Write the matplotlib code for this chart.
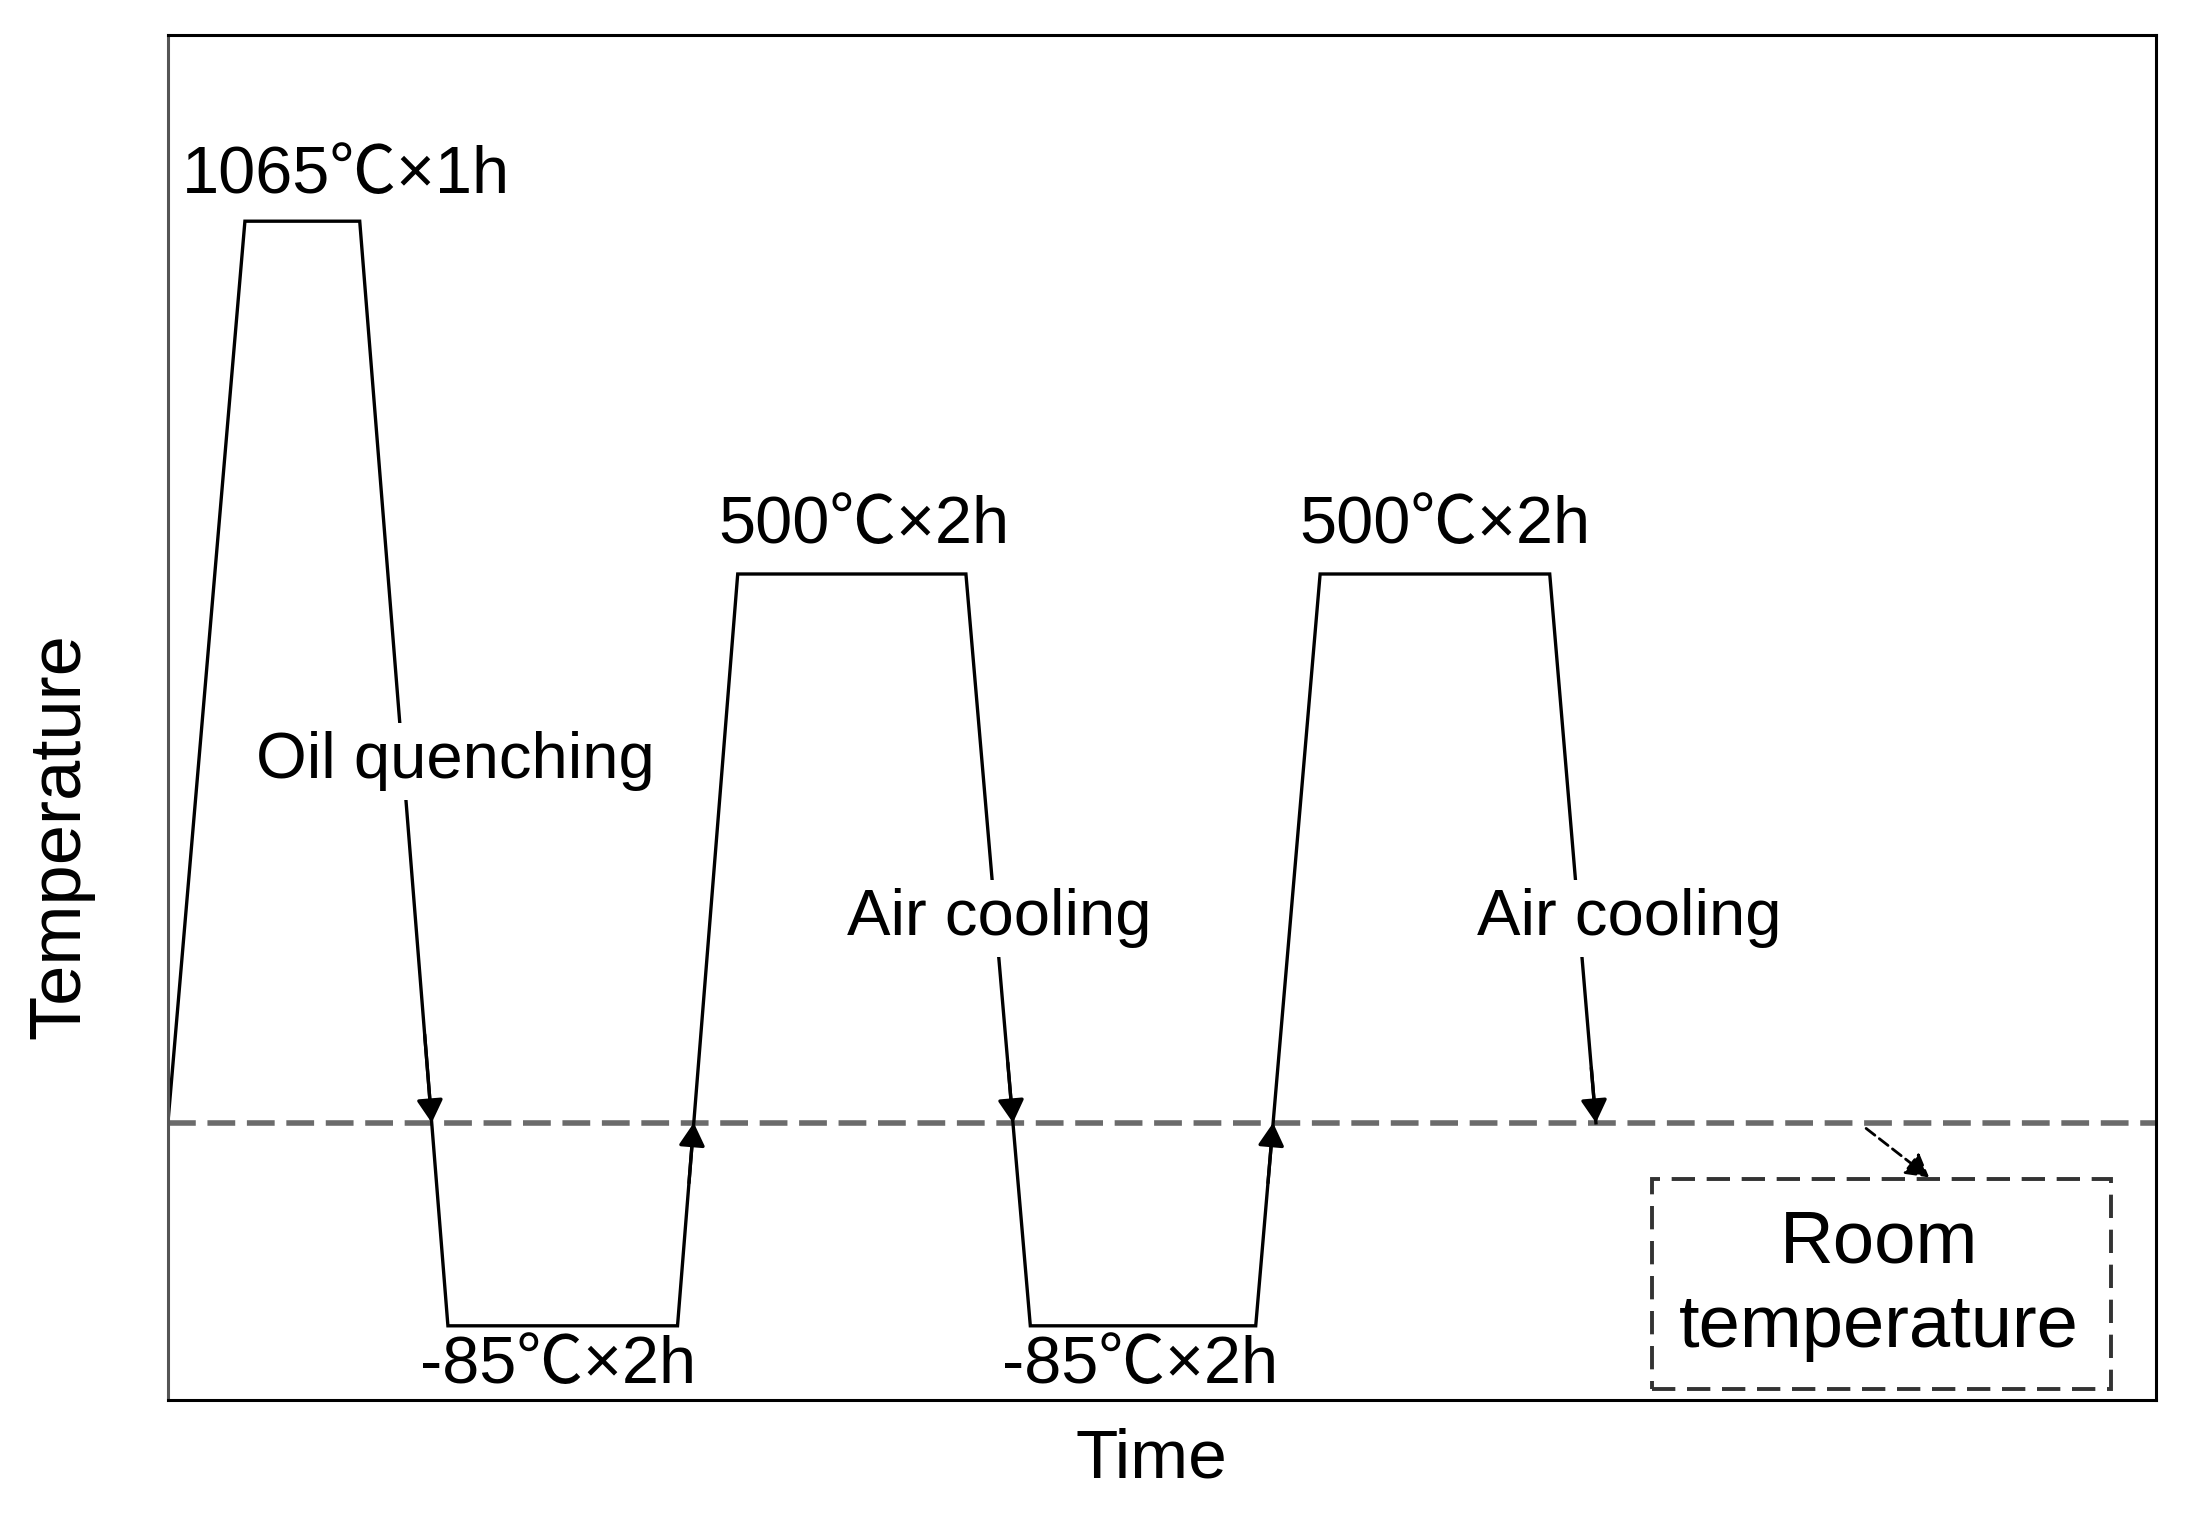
import matplotlib
matplotlib.use('Agg')
import matplotlib.pyplot as plt
from matplotlib.patches import Rectangle

# ---- data (schematic units: time and temperature are arbitrary) ----
time_pts = [0, 55, 137, 200, 364, 407, 570, 616, 777, 823, 987, 1020]
temp_pts = [198, 842, 842, 53, 53, 590, 590, 53, 53, 590, 590, 198]
room_temp = 198
x_range = [0, 1420]
y_range = [0, 975]

hold_labels = ["1065℃×1h", "500℃×2h", "500℃×2h", "-85℃×2h", "-85℃×2h"]
hold_label_x = [10, 393, 808, 180, 596]
hold_label_y = [862, 612, 612, 12, 12]

process_labels = ["Oil quenching", "Air cooling", "Air cooling"]
process_label_x = [63, 485, 935]
process_label_y = [444, 332, 332]

arrow_segments = [2, 4, 6, 8]          # segments with an arrow at the room-temp crossing
room_box = [1060, 8, 328, 150]          # x, y, width, height of the note box
room_arrow = [(1213, 194), (1258, 159)]
room_text = ["Room", "temperature"]
room_text_y = [98, 38]
room_text_x = 1222

FAM = ['Liberation Sans', 'Noto Sans CJK SC', 'DejaVu Sans']
plt.rcParams['font.family'] = FAM

fig = plt.figure(figsize=(21.95, 15.15), dpi=100)
ax = fig.add_axes([0.0765, 0.0759, 0.9057, 0.9010])
ax.set_xlim(*x_range)
ax.set_ylim(*y_range)
ax.set_xticks([])
ax.set_yticks([])
for s in ax.spines.values():
    s.set_linewidth(2.2)
    s.set_color('black')
ax.spines['left'].set_color('#555555')

# room temperature dashed line
ax.axhline(room_temp, color='#6b6b6b', lw=4, dashes=(5, 2.1), zorder=1)

# temperature profile
ax.plot(time_pts, temp_pts, color='black', lw=2.4, zorder=2, solid_joinstyle='miter')

astyle = '-|>,head_length=0.7,head_width=0.4'
for i in arrow_segments:
    t0, t1 = time_pts[i], time_pts[i + 1]
    T0, T1 = temp_pts[i], temp_pts[i + 1]
    f = (room_temp - T0) / (T1 - T0)
    xc = t0 + f * (t1 - t0)
    fb = f - 0.08
    xb = t0 + fb * (t1 - t0)
    yb = T0 + fb * (T1 - T0)
    ax.annotate('', xy=(xc, room_temp), xytext=(xb, yb),
                arrowprops=dict(arrowstyle=astyle, color='black', lw=2.4,
                                shrinkA=0, shrinkB=0, mutation_scale=20), zorder=4)
# final cooling arrow
ax.annotate('', xy=(time_pts[-1], temp_pts[-1]),
            xytext=(time_pts[-2] + 0.9 * (time_pts[-1] - time_pts[-2]),
                    temp_pts[-2] + 0.9 * (temp_pts[-1] - temp_pts[-2])),
            arrowprops=dict(arrowstyle=astyle, color='black', lw=2.4,
                            shrinkA=0, shrinkB=0, mutation_scale=20), zorder=4)

# hold labels
for lab, x, y in zip(hold_labels, hold_label_x, hold_label_y):
    ax.text(x, y, lab, fontsize=48, ha='left', va='baseline', family=FAM, zorder=5)

# process labels with white background masking the line
for lab, x, y in zip(process_labels, process_label_x, process_label_y):
    ax.text(x, y, lab, fontsize=47, ha='left', va='baseline', family=FAM, zorder=5,
            bbox=dict(facecolor='white', edgecolor='none', pad=6))

# room temperature note
ax.add_patch(Rectangle((room_box[0], room_box[1]), room_box[2], room_box[3],
                       fill=False, edgecolor='#333333', lw=2.8, ls=(0, (6, 3)), zorder=3))
ax.annotate('', xy=room_arrow[1], xytext=room_arrow[0],
            arrowprops=dict(arrowstyle=astyle, color='black', lw=2.0, ls=(0, (4, 2)),
                            shrinkA=0, shrinkB=0, mutation_scale=20), zorder=4)
for t, y in zip(room_text, room_text_y):
    ax.text(room_text_x, y, t, fontsize=53.5, ha='center', va='baseline', family=FAM, zorder=5)

ax.set_xlabel('Time', fontsize=50)
ax.xaxis.set_label_coords(0.4945, -0.02)
ax.set_ylabel('Temperature', fontsize=52)
ax.yaxis.set_label_coords(-0.037, 0.413)

fig.savefig('out.png', dpi=100, facecolor='white')
